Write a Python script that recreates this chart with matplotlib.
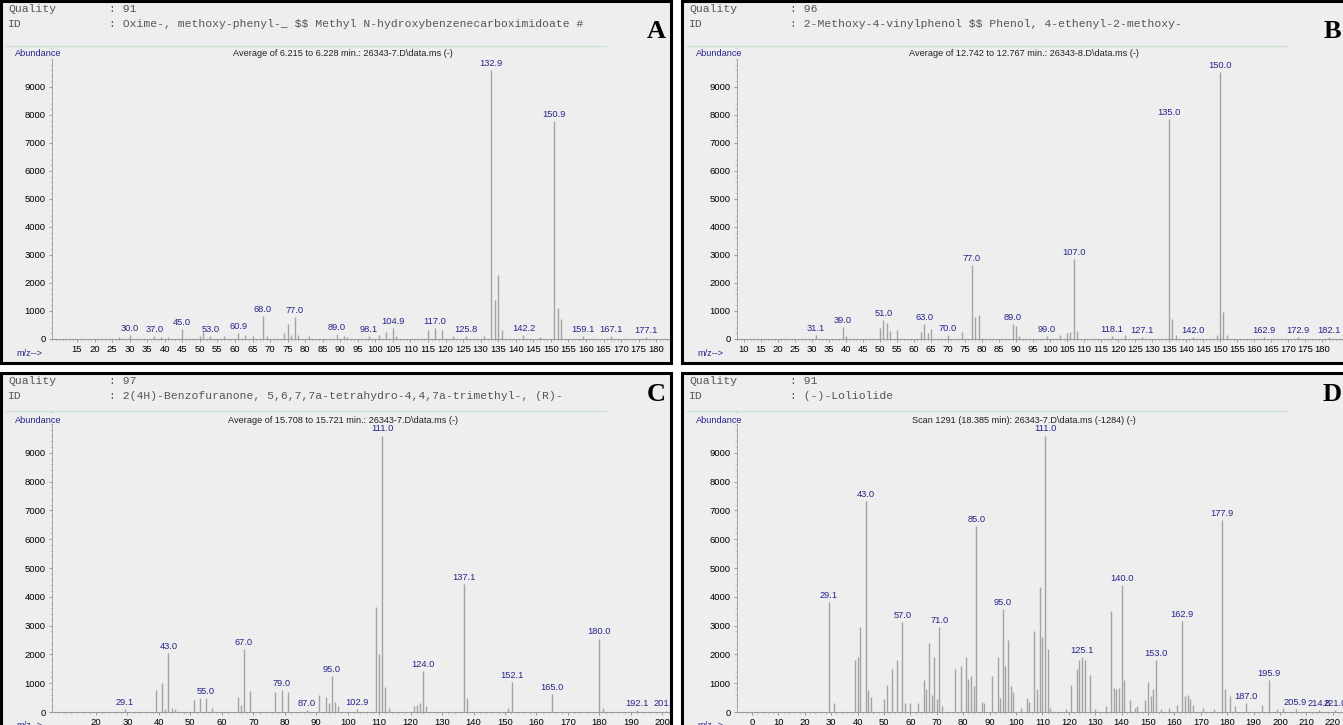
import matplotlib.pyplot as plt
from matplotlib.patches import Rectangle
from matplotlib.lines import Line2D
from matplotlib.ticker import MultipleLocator, FixedLocator

W, H = 1343, 725

# ---- panel A : Oxime-, methoxy-phenyl-
a_mz = [27, 30.0, 37.0, 39, 41, 45.0, 50, 51, 53.0, 57, 60.9, 63, 65, 68.0, 69, 74, 75, 76, 77.0,
        78, 81, 89.0, 91, 92, 98.1, 101, 103, 104.9, 106, 115, 117.0, 119, 122, 125.8, 131,
        132.9, 134, 135, 136, 142.2, 147, 150.9, 152, 153, 159.1, 167.1, 177.1]
a_ab = [60, 130, 90, 80, 70, 370, 110, 250, 120, 100, 200, 160, 120, 820, 110, 200, 520, 160, 800,
        130, 90, 180, 120, 80, 100, 150, 260, 380, 90, 330, 390, 330, 120, 110, 120,
        9600, 1400, 2300, 330, 140, 60, 7800, 1100, 700, 100, 90, 80]
a_lab = [30.0, 37.0, 45.0, 53.0, 60.9, 68.0, 77.0, 89.0, 98.1, 104.9, 117.0, 125.8, 132.9,
         142.2, 150.9, 159.1, 167.1, 177.1]

# ---- panel B : 2-Methoxy-4-vinylphenol
b_mz = [31.1, 39.0, 40, 50, 51.0, 52, 53, 55, 62, 63.0, 64, 65, 70.0, 74, 77.0, 78, 79, 89.0,
        90, 91, 99.0, 103, 105, 106, 107.0, 108, 118.1, 122, 127.1, 135.0, 136, 137, 142.0,
        149, 150.0, 151, 152, 162.9, 172.9, 182.1]
b_ab = [150, 420, 100, 380, 680, 560, 300, 330, 250, 520, 220, 350, 150, 260, 2650, 780, 850, 520,
        460, 100, 100, 150, 200, 250, 2850, 300, 100, 150, 80, 7850, 720, 150, 80,
        150, 9550, 980, 150, 80, 60, 60]
b_lab = [31.1, 39.0, 51.0, 63.0, 70.0, 77.0, 89.0, 99.0, 107.0, 118.1, 127.1, 135.0, 142.0,
         150.0, 162.9, 172.9, 182.1]

# ---- panel C : 2(4H)-Benzofuranone ...
c_mz = [29.1, 39, 41, 42, 43.0, 44, 45, 51, 53, 55.0, 57, 65, 66, 67.0, 69, 77, 79.0, 81, 87.0,
        91, 93, 94, 95.0, 96, 97, 102.9, 109, 110, 111.0, 112, 113, 121, 122, 123, 124.0, 125,
        137.1, 138, 151, 152.1, 165.0, 180.0, 181, 192.1, 201.1]
c_ab = [100, 760, 1000, 120, 2050, 150, 100, 410, 470, 500, 150, 530, 250, 2200, 740, 700, 760,
        700, 60, 590, 530, 300, 1260, 350, 200, 90, 3650, 2000, 9600, 880, 150, 200, 250, 300,
        1410, 200, 4450, 470, 150, 1050, 610, 2550, 150, 80, 50]
c_lab = [29.1, 43.0, 55.0, 67.0, 79.0, 87.0, 95.0, 102.9, 111.0, 124.0, 137.1, 152.1, 165.0,
         180.0, 192.1, 201.1]

# ---- panel D : (-)-Loliolide
d_mz = [29.1, 31, 39, 40, 41, 43.0, 44, 45, 50, 51, 53, 55, 57.0, 58, 60, 63, 65, 66, 67, 68,
        69, 70, 71.0, 72, 77, 79, 81, 82, 83, 84, 85.0, 87, 88, 91, 93, 94, 95.0, 96, 97, 98,
        99, 102, 104, 105, 107, 108, 109, 110, 111.0, 112, 113, 119, 121, 123, 124, 125.1, 126,
        128, 130, 134, 136, 137, 138, 139, 140.0, 141, 143, 145, 146, 149, 150, 151, 152, 153.0,
        155, 158, 161, 162.9, 164, 165, 166, 167, 171, 175, 177.9, 179, 181, 183, 187.0, 193,
        195.9, 199, 201, 205.9, 214.8, 221.0]
d_ab = [3820, 300, 1800, 1900, 2950, 7330, 760, 530, 450, 950, 1500, 1800, 3120, 300, 300, 300,
        1100, 800, 2400, 600, 1900, 450, 2950, 200, 1500, 1600, 1900, 1150, 1250, 900, 6450,
        350, 300, 1250, 1900, 500, 3580, 1600, 2500, 900, 700, 150, 500, 350, 2800, 800, 4350,
        2600, 9600, 2200, 150, 100, 950, 1500, 1800, 1900, 1800, 1300, 100, 200, 3500, 850,
        800, 850, 4400, 1100, 400, 150, 200, 400, 1050, 550, 800, 1800, 100, 150, 250, 3150,
        550, 600, 450, 250, 150, 100, 6670, 800, 550, 200, 300, 250, 1100, 100, 150, 100, 80, 60]
d_lab = [29.1, 43.0, 57.0, 71.0, 85.0, 95.0, 111.0, 125.1, 140.0, 153.0, 162.9, 177.9, 187.0,
         195.9, 205.9, 214.8, 221.0]

qualities = ["91", "96", "97", "91"]
ids = ["Oxime-, methoxy-phenyl-_ \\$\\$ Methyl N-hydroxybenzenecarboximidoate #",
       "2-Methoxy-4-vinylphenol \\$\\$ Phenol, 4-ethenyl-2-methoxy-",
       "2(4H)-Benzofuranone, 5,6,7,7a-tetrahydro-4,4,7a-trimethyl-, (R)-",
       "(-)-Loliolide"]
titles = ["Average of 6.215 to 6.228 min.: 26343-7.D\\data.ms (-)",
          "Average of 12.742 to 12.767 min.: 26343-8.D\\data.ms (-)",
          "Average of 15.708 to 15.721 min.: 26343-7.D\\data.ms (-)",
          "Scan 1291 (18.385 min): 26343-7.D\\data.ms (-1284) (-)"]
letters = ["A", "B", "C", "D"]
xticks = [list(range(15, 181, 5)), list(range(10, 181, 5)),
          list(range(20, 201, 10)), list(range(0, 221, 10))]

NAVY = "#25258a"
LINE = "#a3a3a3"
BG = "#eeeeee"
MONO = "Liberation Mono"
NARROW = ["Liberation Sans Narrow", "Liberation Sans", "DejaVu Sans"]


def fx(px):
    return px / W


def fy(py):
    return 1 - py / H


fig = plt.figure(figsize=(W / 100, H / 100), dpi=100)
fig.patch.set_facecolor("white")

# panel frames: (x0, y0, x1, y1) in pixels
frames = [(1, 1, 671, 363), (682, 1, 1345, 363), (1, 373, 671, 727), (682, 373, 1345, 727)]
rects = []
for x0, y0, x1, y1 in frames:
    r = Rectangle((fx(x0), fy(y1)), fx(x1 - x0), (y1 - y0) / H,
                  transform=fig.transFigure, facecolor=BG,
                  edgecolor="black", linewidth=2.2, zorder=-10)
    fig.patches.append(r)
    rects.append(r)

# header rows, offsets from the panel top: quality, id, green rule, abundance, letter
hdr = [(8, 23, 45, 53, 31), (8, 23, 45, 53, 31), (8, 23, 38, 47, 21), (8, 23, 38, 47, 21)]

# axes geometry: left px, right px, px of y=0, px per 1000
# mz mapping px = p0 + (mz - m0) * k
geo = [
    dict(left=52, right=669, base=339, per=28.0, p0=77, m0=15, k=3.51),
    dict(left=737, right=1343, base=339, per=28.0, p0=744, m0=10, k=3.40),
    dict(left=52, right=669, base=712, per=28.8, p0=96, m0=20, k=3.146),
    dict(left=737, right=1343, base=712, per=28.8, p0=752, m0=0, k=2.64),
]
data = [(a_mz, a_ab, a_lab), (b_mz, b_ab, b_lab), (c_mz, c_ab, c_lab), (d_mz, d_ab, d_lab)]

for i, g in enumerate(geo):
    fr = frames[i]
    ox, oy = fr[0], fr[1]
    hq, hi, hg, hab, hl = hdr[i]
    top_val = 10500
    top_px = g["base"] - top_val / 1000 * g["per"]
    ax = fig.add_axes([fx(g["left"]), fy(g["base"]), fx(g["right"] - g["left"]),
                       (g["base"] - top_px) / H])
    ax.patch.set_alpha(0)
    xl = g["m0"] + (g["left"] - g["p0"]) / g["k"]
    xr = g["m0"] + (g["right"] - g["p0"]) / g["k"]
    ax.set_xlim(xl, xr)
    ax.set_ylim(0, top_val)

    mz, ab, lab = data[i]
    ax.vlines(mz, 0, ab, color=LINE, linewidth=1.0)
    for m, a in zip(mz, ab):
        if m in lab:
            t = ax.annotate(f"{m:.1f}", xy=(m, a), xytext=(0, 1.5), textcoords="offset points",
                            ha="center", va="bottom", fontsize=6.7, color=NAVY,
                            family=NARROW, annotation_clip=False)
            t.set_clip_path(rects[i])

    for s in ["top", "right"]:
        ax.spines[s].set_visible(False)
    ax.spines["left"].set_bounds(0, 10000)
    ax.spines["left"].set_color("#9a9a9a")
    ax.spines["bottom"].set_color("#9a9a9a")
    ax.spines["left"].set_linewidth(0.6)
    ax.spines["bottom"].set_linewidth(0.8)
    ax.yaxis.set_major_locator(FixedLocator(range(0, 10000, 1000)))
    ax.yaxis.set_minor_locator(MultipleLocator(200))
    ax.xaxis.set_major_locator(FixedLocator(xticks[i]))
    ax.xaxis.set_minor_locator(MultipleLocator(1 if i < 2 else 2))
    ax.tick_params(axis="both", which="major", length=2.5, width=0.5, color="#777777",
                   labelsize=6.8, pad=2)
    ax.tick_params(axis="both", which="minor", length=1.5, width=0.4, color="#aaaaaa")
    for t in ax.get_xticklabels() + ax.get_yticklabels():
        t.set_family(NARROW)

    # header texts
    fig.text(fx(ox + 7), fy(oy + hq), "Quality", family=MONO, fontsize=8.2, color="#555555",
             va="center")
    fig.text(fx(ox + 108), fy(oy + hq), ": " + qualities[i], family=MONO, fontsize=8.2,
             color="#555555", va="center")
    fig.text(fx(ox + 7), fy(oy + hi), "ID", family=MONO, fontsize=8.2, color="#555555",
             va="center")
    fig.text(fx(ox + 108), fy(oy + hi), ": " + ids[i], family=MONO, fontsize=8.2,
             color="#555555", va="center")
    fig.text(fx(ox + 655 if i in (0, 2) else ox + 650), fy(oy + hl), letters[i],
             family="Liberation Serif", fontweight="bold", fontsize=19, color="black",
             ha="center", va="center")
    fig.add_artist(Line2D([fx(ox + 5), fx(ox + 605)], [fy(oy + hg), fy(oy + hg)],
                          color="#cfe3cf", linewidth=1.0))
    fig.text(fx(ox + 14), fy(oy + hab), "Abundance", family=NARROW, fontsize=6.6,
             color=NAVY, va="center")
    fig.text(fx(ox + 342), fy(oy + hab), titles[i], family=NARROW, fontsize=6.6,
             color="#222222", va="center", ha="center")
    fig.text(fx(ox + 15), fy(g["base"] + 14), "m/z-->", family=NARROW, fontsize=6.6,
             color=NAVY, va="center")

fig.savefig("out.png", dpi=100)
